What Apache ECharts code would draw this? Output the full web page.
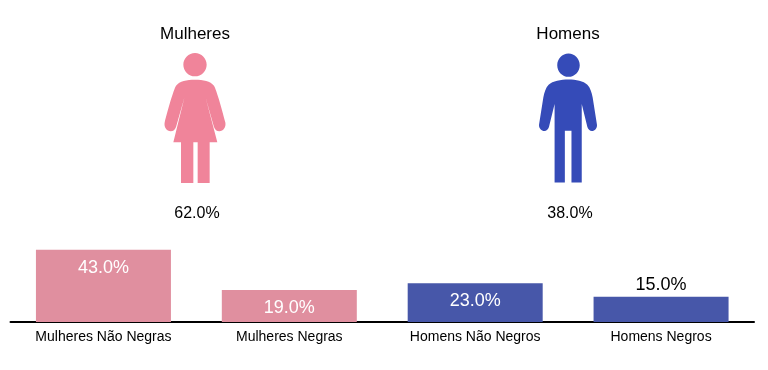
<!DOCTYPE html>
<html>
<head>
<meta charset="utf-8">
<style>html,body{margin:0;padding:0;background:#fff}#c{width:768px;height:370px}</style>
<script src="https://cdn.jsdelivr.net/npm/echarts@6/dist/echarts.min.js"></script>
</head>
<body>
<div id="c"></div>
<script>
const genders = ['Mulheres', 'Homens'];
const genderShares = [62.0, 38.0];
const categories = ['Mulheres Não Negras', 'Mulheres Negras', 'Homens Não Negros', 'Homens Negros'];
const values = [43.0, 19.0, 23.0, 15.0];
const barColors = ['#E08F9F', '#E08F9F', '#4757A9', '#4757A9'];

const womanPath = 'path://M197 100C216 100 232 116 232 135C232 154 216 170 197 170C178 170 162 154 162 135C162 116 178 100 197 100Z' +
  'M197 180C222 180 243 184 254 198C262 212 278 268 288 308C291 322 282 335 270 335C262 335 257 330 254 322L229 234L264 368H241V490H205V368H192V490H155V368H132L165 234L140 322C137 330 132 335 124 335C112 335 103 322 106 308C116 268 132 212 140 198C151 184 172 180 197 180Z';
const manPath = 'path://M177 100C196 100 211 116 211 135C211 154 196 170 177 170C158 170 143 154 143 135C143 116 158 100 177 100Z' +
  'M177 178C200 178 222 182 234 194C243 203 247 218 250 232L263 314C264 325 256 333 248 333C241 333 236 328 234 321L217 252V488H186V332H166V488H135V252L118 321C116 328 111 333 104 333C96 333 87 325 88 314L101 232C104 218 108 203 117 194C129 182 154 178 177 178Z';
const icons = [womanPath, manPath];
const iconColors = ['#F0849A', '#354BB8'];
const iconSizes = [[61, 130], [58, 129]];

const font = '"Liberation Sans", Arial, sans-serif';
const chart = echarts.init(document.getElementById('c'), null, {renderer: 'canvas'});
chart.setOption({
  animation: false,
  backgroundColor: '#fff',
  grid: [
    {left: 10.5, width: 743.5, top: 222, height: 100},
    {left: 8.5, width: 746, top: 48, height: 140}
  ],
  xAxis: [
    {
      gridIndex: 0, type: 'category', data: categories,
      axisLine: {lineStyle: {color: '#000', width: 2}},
      axisTick: {show: false},
      axisLabel: {color: '#000', fontFamily: font, fontSize: 14, margin: 8, interval: 0}
    },
    {
      gridIndex: 1, type: 'category', data: genders, position: 'top',
      axisLine: {show: false}, axisTick: {show: false},
      axisLabel: {color: '#000', fontFamily: font, fontSize: 17, margin: 5}
    }
  ],
  yAxis: [
    {gridIndex: 0, type: 'value', min: 0, max: 59.5, show: false},
    {gridIndex: 1, type: 'category', data: ['Total'], show: false}
  ],
  series: [
    {
      type: 'bar', xAxisIndex: 0, yAxisIndex: 0, barWidth: 135,
      data: values.map((v, i) => ({
        value: v,
        itemStyle: {color: barColors[i]},
        label: v < 16
          ? {position: 'top', distance: 3, color: '#000'}
          : {position: 'insideTop', distance: 9, color: '#fff'}
      })),
      label: {show: true, fontFamily: font, fontSize: 18, formatter: p => p.value.toFixed(1) + '%'}
    },
    {
      type: 'scatter', xAxisIndex: 1, yAxisIndex: 1,
      data: genders.map((g, i) => ({
        value: [g, 'Total', genderShares[i]],
        symbol: icons[i],
        symbolSize: iconSizes[i],
        itemStyle: {color: iconColors[i], opacity: 1}
      })),
      encode: {x: 0, y: 1},
      label: {
        show: true, position: 'bottom', distance: 23, offset: [2, 0], color: '#000',
        fontFamily: font, fontSize: 16,
        formatter: p => p.value[2].toFixed(1) + '%'
      }
    }
  ]
});
</script>
</body>
</html>
